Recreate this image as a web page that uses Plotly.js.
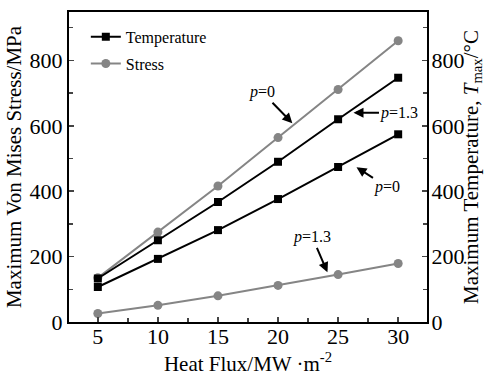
<!DOCTYPE html>
<html>
<head>
<meta charset="utf-8">
<script src="https://cdn.plot.ly/plotly-3.0.1.min.js"></script>
<style>html,body{margin:0;padding:0;background:#fff;}#chart{width:485px;height:383px;}</style>
</head>
<body>
<div id="chart"></div>
<script>
var flux = [5, 10, 15, 20, 25, 30];
var tempP0 = [107, 193, 281, 376, 474, 574];
var tempP13 = [133, 250, 367, 490, 620, 747];
var stressP0 = [135, 275, 416, 564, 711, 860];
var stressP13 = [26, 51, 80, 112, 145, 179];
var xTicks = [5, 10, 15, 20, 25, 30];
var yTicks = [0, 200, 400, 600, 800];

var F = 'Liberation Serif, Times New Roman, serif';
var black = '#000000';
var grey = '#858585';

var traces = [
  {x: flux, y: tempP0, yaxis: 'y2', name: 'Temperature', legendgroup: 'a', showlegend: true,
   mode: 'lines+markers', line: {color: black, width: 2}, marker: {symbol: 'square', size: 8, color: black}},
  {x: flux, y: tempP13, yaxis: 'y2', name: 'Temperature', legendgroup: 'a', showlegend: false,
   mode: 'lines+markers', line: {color: black, width: 2}, marker: {symbol: 'square', size: 8, color: black}},
  {x: flux, y: stressP0, name: 'Stress', legendgroup: 'b', showlegend: true,
   mode: 'lines+markers', line: {color: grey, width: 2}, marker: {symbol: 'circle', size: 9, color: grey}},
  {x: flux, y: stressP13, name: 'Stress', legendgroup: 'b', showlegend: false,
   mode: 'lines+markers', line: {color: grey, width: 2}, marker: {symbol: 'circle', size: 9, color: grey}}
];

function ann(x, y, text, ax, ay, yref) {
  return {x: x, y: y, xref: 'x', yref: yref || 'y', text: text, showarrow: true,
    ax: ax, ay: ay, arrowhead: 2, arrowsize: 1, arrowwidth: 2, arrowcolor: '#000',
    font: {family: F, size: 16, color: '#000'}};
}

var layout = {
  width: 485, height: 383,
  margin: {l: 69, r: 58, t: 12, b: 61},
  paper_bgcolor: '#fff', plot_bgcolor: '#fff',
  font: {family: F, color: '#000'},
  xaxis: {range: [2.6, 32.4], tickvals: xTicks, ticks: 'inside', ticklen: 5, tickwidth: 1.5,
    minor: {dtick: 2.5, ticks: 'inside', ticklen: 4, tickwidth: 1.5, showgrid: false},
    showline: true, linewidth: 2, linecolor: '#000', mirror: true, showgrid: false, zeroline: false,
    tickfont: {family: F, size: 22}, ticklabelstandoff: -6,
    title: {text: 'Heat Flux/MW ·m<sup>-2</sup>', font: {family: F, size: 21}, standoff: 4}},
  yaxis: {range: [0, 948], tickvals: yTicks, ticks: 'inside', ticklen: 5, tickwidth: 1.5,
    minor: {dtick: 100, ticks: 'inside', ticklen: 4, tickwidth: 1.5, showgrid: false},
    showline: true, linewidth: 2, linecolor: '#000', showgrid: false, zeroline: false,
    tickfont: {family: F, size: 22},
    title: {text: 'Maximum Von Mises Stress/MPa', font: {family: F, size: 21}, standoff: 2}},
  yaxis2: {range: [0, 948], overlaying: 'y', side: 'right', tickvals: yTicks, ticks: 'inside', ticklen: 5, tickwidth: 1.5,
    minor: {dtick: 100, ticks: 'inside', ticklen: 4, tickwidth: 1.5, showgrid: false},
    showline: true, linewidth: 2, linecolor: '#000', showgrid: false, zeroline: false,
    tickfont: {family: F, size: 22}, ticklabelstandoff: -2,
    title: {text: 'Maximum Temperature, <i>T</i><sub>max</sub>/°C', font: {family: F, size: 21}, standoff: 2}},
  legend: {x: 0.047, y: 0.975, xanchor: 'left', yanchor: 'top', bgcolor: 'rgba(0,0,0,0)',
    font: {family: F, size: 16}, traceorder: 'grouped', tracegroupgap: 3},
  showlegend: true,
  annotations: [
    ann(21.19, 608, '<i>p</i>=0', -30, -31),
    ann(26.28, 640, '<i>p</i>=1.3', 46, 0),
    ann(26.53, 473.5, '<i>p</i>=0', 31, 20),
    ann(24.11, 152, '<i>p</i>=1.3', -15, -35)
  ]
};

Plotly.newPlot('chart', traces, layout, {displayModeBar: false, staticPlot: true});
</script>
</body>
</html>
